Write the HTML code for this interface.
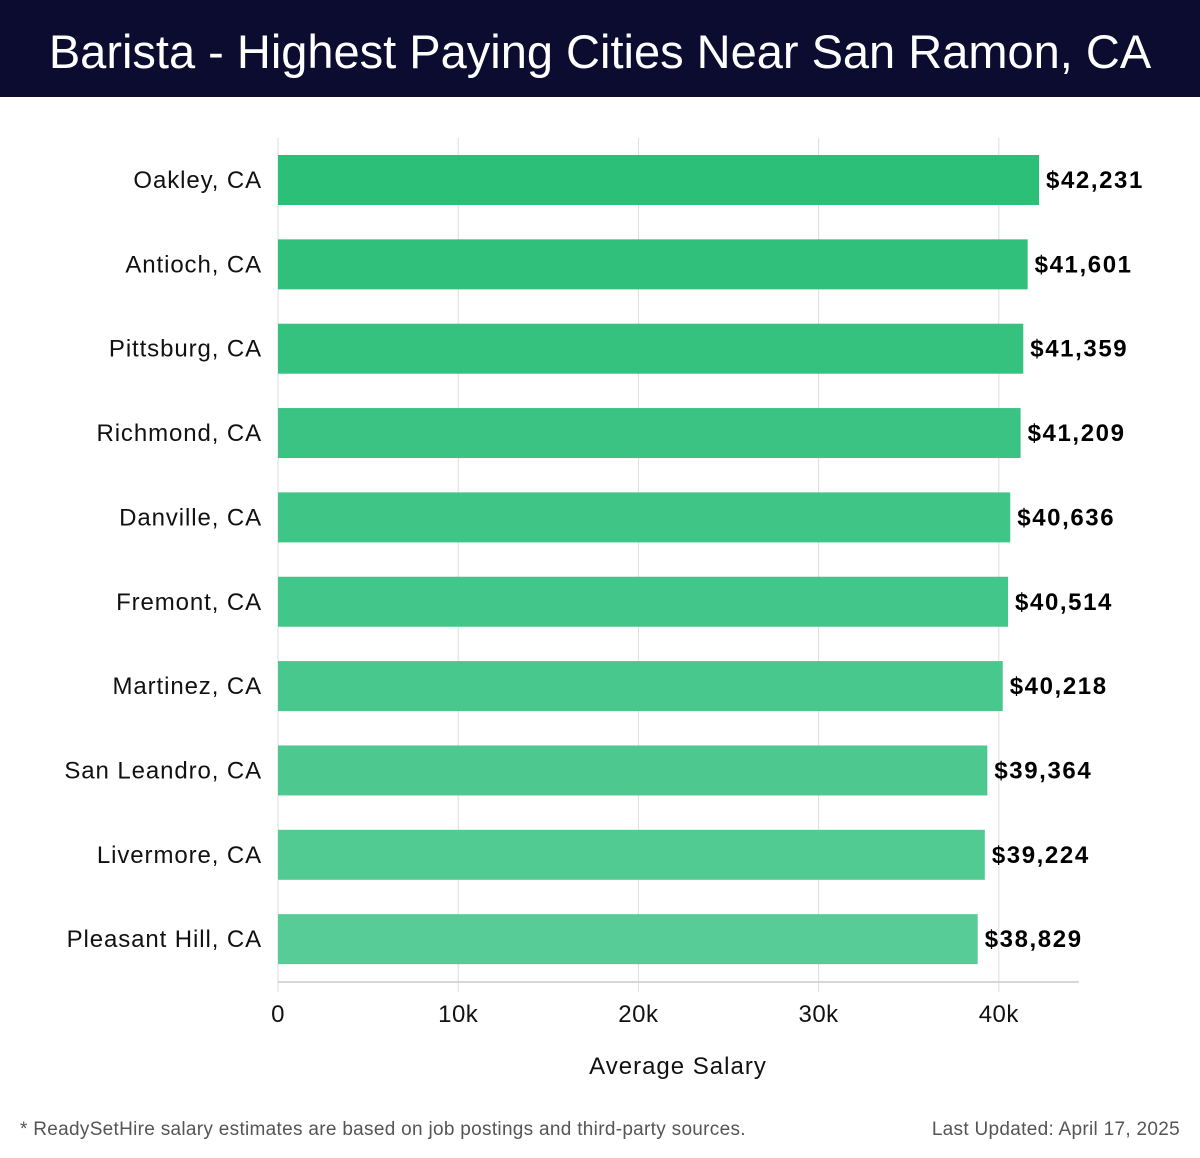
<!DOCTYPE html>
<html><head><meta charset="utf-8"><style>
body{margin:0;width:1200px;height:1158px;background:#fff;font-family:"Liberation Sans",sans-serif;overflow:hidden}
#hdr{position:absolute;left:0;top:0;width:1200px;height:97px;background:#0b0c2f;color:#fff;font-size:47px;text-align:center;line-height:104px}
.foot{position:absolute;top:1119px;font-size:19px;color:#555;letter-spacing:0.3px}
</style></head><body>
<div id="hdr">Barista - Highest Paying Cities Near San Ramon, CA</div>
<svg id="c" width="1200" height="1100" style="position:absolute;left:0;top:0"></svg>
<div class="foot" style="left:20px">* ReadySetHire salary estimates are based on job postings and third-party sources.</div>
<div class="foot" style="right:20px">Last Updated: April 17, 2025</div>
<script>
const cities=["Oakley, CA","Antioch, CA","Pittsburg, CA","Richmond, CA","Danville, CA","Fremont, CA","Martinez, CA","San Leandro, CA","Livermore, CA","Pleasant Hill, CA"];
const salaries=[42231,41601,41359,41209,40636,40514,40218,39364,39224,38829];
const ticks=[0,10000,20000,30000,40000];
const tickLabels=["0","10k","20k","30k","40k"];
const svg=document.getElementById('c');const NS='http://www.w3.org/2000/svg';
const x=v=>278+v*(720.8/40000);
const y=i=>155+i*84.35;
function mk(t,a,p){const e=document.createElementNS(NS,t);for(const k in a)e.setAttribute(k,a[k]);(p||svg).appendChild(e);return e;}
ticks.forEach((t,i)=>{
 const g=mk('line',{x1:x(t),x2:x(t),y1:138,y2:992,stroke:'#ddd','stroke-width':1});
 
 
 const l=mk('text',{x:x(t),y:1022,'text-anchor':'middle','font-size':24,fill:'#111','letter-spacing':0.5});l.textContent=tickLabels[i];
 
 
});
const ax=mk('line',{x1:278,x2:1079,y1:982,y2:982,stroke:'#ccc','stroke-width':1.5});


const c0=[43,191,119],c1=[87,204,151];
cities.forEach((c,i)=>{
 const f=i/(cities.length-1);const col=`rgb(${c0.map((v,k)=>Math.round(v+(c1[k]-v)*f)).join(',')})`;
 const r=mk('rect',{x:278,y:y(i),width:x(salaries[i])-278,height:50,fill:col});
 
 
 const t=mk('text',{x:262,y:y(i)+33,'text-anchor':'end','font-size':24,fill:'#111','letter-spacing':0.9});t.textContent=c;
 
 
 const v=mk('text',{x:x(salaries[i])+7,y:y(i)+33,'font-size':24,'font-weight':'bold',fill:'#000','letter-spacing':1.6});v.textContent='$'+salaries[i].toLocaleString('en-US');
 
 
});
const at=mk('text',{x:678,y:1074,'text-anchor':'middle','font-size':24,fill:'#111','letter-spacing':1});at.textContent='Average Salary';


</script>
</body></html>
